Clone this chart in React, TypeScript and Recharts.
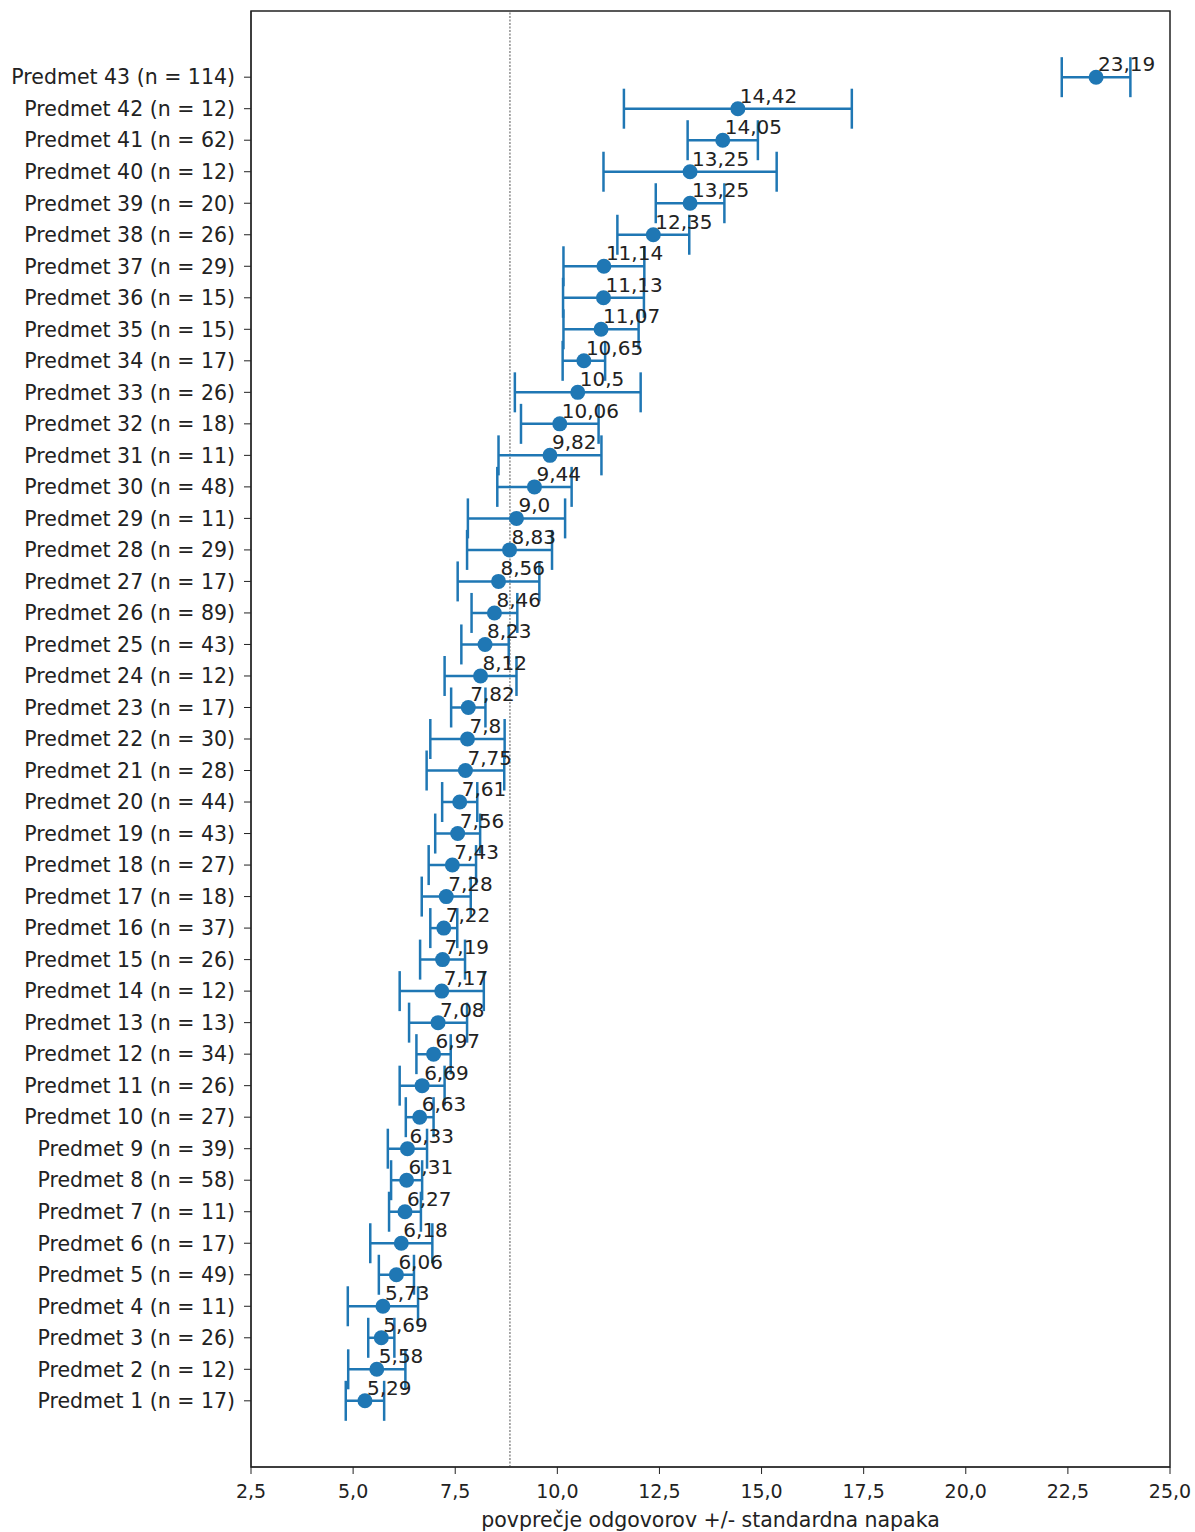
import React from "react";
import {
  ScatterChart,
  Scatter,
  XAxis,
  YAxis,
  ErrorBar,
  ReferenceLine,
  ReferenceArea,
  Label,
} from "recharts";

// Predmet 1 .. Predmet 43 (bottom to top)
const counts = [
  17, 12, 26, 11, 49, 17, 11, 58, 39, 27, 26, 34, 13, 12, 26, 37, 18, 27, 43, 44, 28,
  30, 17, 12, 43, 89, 17, 29, 11, 48, 11, 18, 26, 17, 15, 15, 29, 26, 20, 12, 62, 12, 114,
];

const means = [
  5.29, 5.58, 5.69, 5.73, 6.06, 6.18, 6.27, 6.31, 6.33, 6.63, 6.69, 6.97, 7.08, 7.17,
  7.19, 7.22, 7.28, 7.43, 7.56, 7.61, 7.75, 7.8, 7.82, 8.12, 8.23, 8.46, 8.56, 8.83, 9.0,
  9.44, 9.82, 10.06, 10.5, 10.65, 11.07, 11.13, 11.14, 12.35, 13.25, 13.25, 14.05, 14.42,
  23.19,
];

// standard errors
const stdErrors = [
  0.47, 0.7, 0.32, 0.86, 0.43, 0.76, 0.39, 0.38, 0.48, 0.34, 0.55, 0.42, 0.71, 1.03,
  0.55, 0.33, 0.6, 0.58, 0.55, 0.43, 0.95, 0.91, 0.42, 0.88, 0.58, 0.56, 1.0, 1.04, 1.19,
  0.91, 1.26, 0.95, 1.54, 0.52, 0.92, 0.99, 0.99, 0.88, 0.84, 2.12, 0.86, 2.79, 0.84,
];

const overallMean = 8.84;
const xTicks = [2.5, 5, 7.5, 10, 12.5, 15, 17.5, 20, 22.5, 25];

const subjectLabels = counts.map((n, i) => `Predmet ${i + 1} (n = ${n})`);

const fmtComma = (v: number) =>
  (Number.isInteger(v) ? v.toFixed(1) : String(v)).replace(".", ",");

const data = means.map((m, i) => ({
  idx: i + 1,
  mean: m,
  err: stdErrors[i],
  text: fmtComma(m),
}));

const BLUE = "#1f77b4";
const FONT = "DejaVu Sans";

const NoShape = () => <g />;

const DotWithText = (props: any) => {
  const { cx, cy, payload } = props;
  return (
    <g>
      <circle cx={cx} cy={cy} r={7.5} fill={BLUE} />
      <text
        x={cx + 2}
        y={cy - 6}
        fontSize={20}
        fontFamily={FONT}
        fill="#222"
        textAnchor="start"
      >
        {payload.text}
      </text>
    </g>
  );
};

export default function App() {
  return (
    <div style={{ position: "absolute", left: 0, top: 0, background: "#fff" }}>
      <ScatterChart
        width={1195}
        height={1532}
        margin={{ top: 11, right: 25, left: 0, bottom: 0 }}
      >
        <XAxis
          type="number"
          dataKey="mean"
          domain={[2.5, 25]}
          ticks={xTicks}
          tickFormatter={(v: number) => v.toFixed(1).replace(".", ",")}
          allowDataOverflow
          height={65}
          tickSize={7}
          tickMargin={11}
          stroke="#222"
          tick={{ fontSize: 19, fontFamily: FONT, fill: "#222" }}
        >
          <Label
            value="povprečje odgovorov +/- standardna napaka"
            position="insideBottom"
            offset={5}
            style={{ fontSize: 20.5, fontFamily: FONT, fill: "#222" }}
          />
        </XAxis>
        <YAxis
          type="number"
          dataKey="idx"
          domain={[-1.1, 45.1]}
          ticks={data.map((d) => d.idx)}
          interval={0}
          tickFormatter={(v: number) => subjectLabels[v - 1] ?? ""}
          allowDataOverflow
          width={251}
          tickSize={7}
          tickMargin={9}
          stroke="#222"
          tick={{ fontSize: 20.5, fontFamily: FONT, fill: "#222" }}
        />
        <ReferenceArea
          x1={2.5}
          x2={25}
          y1={-1.1}
          y2={45.1}
          fill="none"
          stroke="#222"
          strokeWidth={1.5}
          fillOpacity={0}
        />
        <ReferenceLine
          x={overallMean}
          stroke="#555"
          strokeWidth={1}
          strokeDasharray="2 1.5"
        />
        <Scatter data={data} shape={NoShape} isAnimationActive={false}>
          <ErrorBar
            dataKey="err"
            direction="x"
            width={20}
            strokeWidth={2.5}
            stroke={BLUE}
            isAnimationActive={false}
          />
        </Scatter>
        <Scatter data={data} shape={DotWithText} isAnimationActive={false} />
      </ScatterChart>
    </div>
  );
}
